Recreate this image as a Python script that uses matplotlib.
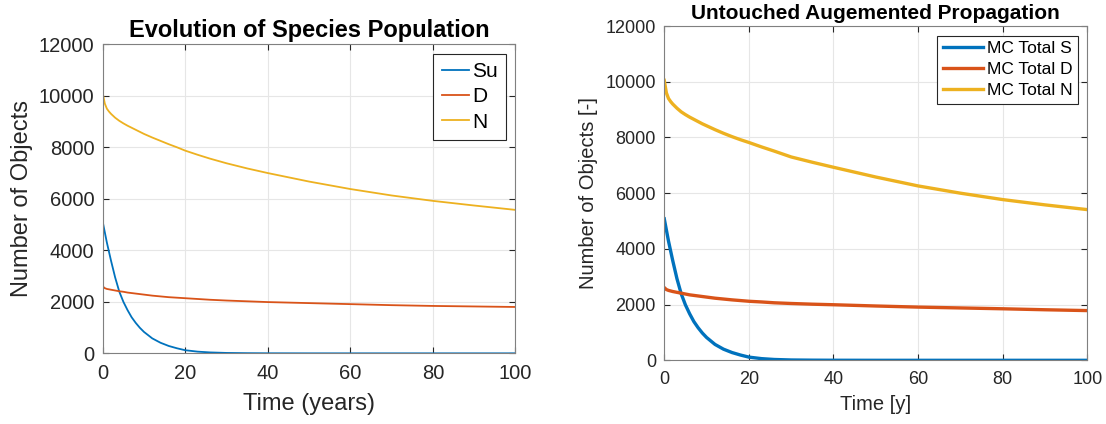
import matplotlib
matplotlib.use("Agg")
import matplotlib.pyplot as plt

plt.rcParams['font.family'] = ['Liberation Sans', 'DejaVu Sans']

# time samples (years)
years = [0, 0.5, 1, 1.5, 2, 3, 4, 5, 6, 7, 8, 9, 10, 12, 14, 16, 18, 20, 23, 26, 30, 35,
         40, 50, 60, 70, 80, 90, 100]

# species model
su_model = [5100, 4700, 4300, 3950, 3600, 2950, 2400, 2000, 1680, 1400, 1180, 990, 830, 580, 410, 285, 195,
            120, 65, 35, 15, 6, 2, 0, 0, 0, 0, 0, 0]
d_model = [2600, 2530, 2500, 2485, 2470, 2440, 2410, 2390, 2360, 2340, 2320, 2300, 2280, 2240, 2210, 2180, 2160,
           2140, 2110, 2080, 2050, 2020, 1990, 1950, 1910, 1870, 1840, 1820, 1800]
n_model = [10100, 9700, 9500, 9390, 9300, 9150, 9030, 8930, 8840, 8760, 8680, 8600, 8520, 8380, 8250, 8120, 8000,
           7870, 7710, 7560, 7380, 7180, 7000, 6670, 6380, 6130, 5920, 5740, 5570]

# monte carlo totals
s_mc = [5080, 4680, 4280, 3930, 3580, 2930, 2390, 1990, 1670, 1390, 1170, 980, 820, 570, 400, 280, 190,
        115, 60, 30, 12, 5, 2, 0, 0, 0, 0, 0, 0]
d_mc = [2610, 2540, 2510, 2490, 2470, 2440, 2410, 2380, 2350, 2330, 2310, 2290, 2270, 2230, 2200, 2170, 2145,
        2120, 2095, 2065, 2040, 2015, 1995, 1950, 1910, 1880, 1850, 1815, 1785]
n_mc = [10050, 9600, 9400, 9290, 9200, 9050, 8920, 8820, 8730, 8650, 8570, 8490, 8420, 8280, 8150, 8030, 7920,
        7820, 7660, 7510, 7300, 7110, 6930, 6580, 6260, 6000, 5770, 5580, 5410]

blue = '#0072BD'
red = '#D95319'
yellow = '#EDB120'
axcol = '#262626'


def style_axes(ax, tick_size):
    ax.set_xlim(0, 100)
    ax.set_ylim(0, 12000)
    ax.set_xticks(range(0, 101, 20))
    ax.set_yticks(range(0, 12001, 2000))
    ax.grid(True, color='#e6e6e6', linewidth=0.8)
    ax.set_axisbelow(True)
    ax.tick_params(direction='in', length=4, width=0.8, colors=axcol,
                   labelsize=tick_size, top=True, right=True)
    ax.tick_params(axis='x', pad=8)
    ax.tick_params(axis='y', pad=6)
    for s in ax.spines.values():
        s.set_color('#808080')
        s.set_linewidth(0.8)


fig = plt.figure(figsize=(11.06, 4.24), dpi=100)

ax1 = fig.add_axes([0.0929, 0.1667, 0.3731, 0.7288])
ax1.plot(years, su_model, color=blue, linewidth=1.3, label='Su')
ax1.plot(years, d_model, color=red, linewidth=1.3, label='D')
ax1.plot(years, n_model, color=yellow, linewidth=1.3, label='N')
style_axes(ax1, 14.5)
ax1.set_title('Evolution of Species Population', fontsize=17, fontweight='bold', pad=5)
ax1.set_xlabel('Time (years)', fontsize=17, color=axcol, labelpad=7)
ax1.set_ylabel('Number of Objects', fontsize=17, color=axcol, labelpad=4)
leg1 = ax1.legend(loc='upper right', fontsize=15, fancybox=False, framealpha=1,
                  handlelength=1.3, handletextpad=0.15, borderpad=0.4, labelspacing=0.3,
                  borderaxespad=0.45)
leg1.get_frame().set_edgecolor(axcol)
leg1.get_frame().set_linewidth(0.8)

ax2 = fig.add_axes([0.6006, 0.1502, 0.3825, 0.7884])
ax2.plot(years, s_mc, color=blue, linewidth=2.4, label='MC Total S')
ax2.plot(years, d_mc, color=red, linewidth=2.4, label='MC Total D')
ax2.plot(years, n_mc, color=yellow, linewidth=2.4, label='MC Total N')
style_axes(ax2, 13)
ax2.set_title('Untouched Augemented Propagation', fontsize=15, fontweight='bold', pad=5)
ax2.set_xlabel('Time [y]', fontsize=14.5, color=axcol, labelpad=5)
ax2.set_ylabel('Number of Objects [-]', fontsize=14.5, color=axcol, labelpad=5)
leg2 = ax2.legend(loc='upper right', fontsize=12.5, fancybox=False, framealpha=1,
                  handlelength=2.3, handletextpad=0.25, borderpad=0.3, labelspacing=0.35,
                  borderaxespad=0.55)
leg2.get_frame().set_edgecolor(axcol)
leg2.get_frame().set_linewidth(0.8)

fig.savefig('out.png', dpi=100)
